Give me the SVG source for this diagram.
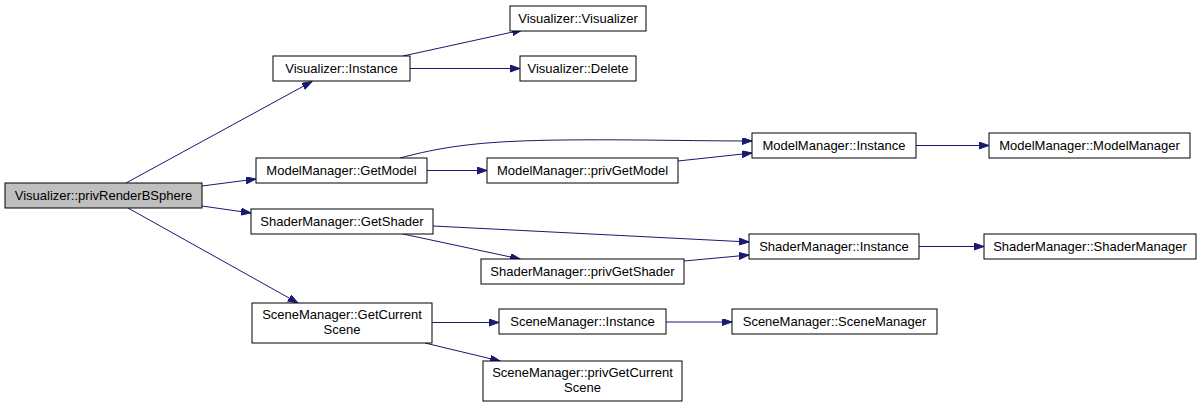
<svg xmlns="http://www.w3.org/2000/svg" width="1201" height="407" viewBox="0 0 1201 407">
<style>
.n rect{fill:#fff;stroke:#000;stroke-width:1}
.n.root rect{fill:#bfbfbf}
text{font-family:"Liberation Sans",Arial,sans-serif;font-size:13px;text-anchor:middle;fill:#000}
#edges path{fill:none;stroke:#191970;stroke-width:1;marker-end:url(#ah)}
</style>
<defs>
<marker id="ah" markerUnits="userSpaceOnUse" markerWidth="11" markerHeight="8" refX="10" refY="3.5" orient="auto">
<path d="M0,0 L10,3.5 L0,7 z" fill="#191970" stroke="#191970" stroke-width="1"/>
</marker>
</defs>
<rect width="1201" height="407" fill="#fff"/>
<g id="edges">
<path d="M126,183 L312,81.5"/>
<path d="M202,186 L256,179"/>
<path d="M202,206 L251,213"/>
<path d="M128,208 L298,303"/>
<path d="M403,56 L522,30"/>
<path d="M410,68.5 L520,68.5"/>
<path d="M400,158 C430,150 460,144 510,141.5 C580,138 680,141 752,141"/>
<path d="M427,170.5 L487,170.5"/>
<path d="M678,161 L752,153"/>
<path d="M916,145.5 L989,145.5"/>
<path d="M433,226 L749,242"/>
<path d="M403,234 L520,259"/>
<path d="M684,261 L749,255"/>
<path d="M919,246.5 L984,246.5"/>
<path d="M432,322.5 L499,322.5"/>
<path d="M425,343 L500,361"/>
<path d="M666,322 L732,322"/>
</g>
<g id="root" class="n root"><rect x="5" y="183" width="197" height="25"/><text x="103.5" y="200">Visualizer::privRenderBSphere</text></g>
<g id="vis_instance" class="n"><rect x="273" y="56" width="137" height="25"/><text x="341.5" y="73">Visualizer::Instance</text></g>
<g id="vis_visualizer" class="n"><rect x="510" y="6" width="136" height="25"/><text x="578" y="23">Visualizer::Visualizer</text></g>
<g id="vis_delete" class="n"><rect x="520" y="56" width="116" height="25"/><text x="578" y="73">Visualizer::Delete</text></g>
<g id="mm_getmodel" class="n"><rect x="256" y="158" width="171" height="25"/><text x="341.5" y="175">ModelManager::GetModel</text></g>
<g id="mm_privgetmodel" class="n"><rect x="487" y="158" width="191" height="25"/><text x="582.5" y="175">ModelManager::privGetModel</text></g>
<g id="mm_instance" class="n"><rect x="752" y="133" width="164" height="25"/><text x="834" y="150">ModelManager::Instance</text></g>
<g id="mm_modelmanager" class="n"><rect x="989" y="133" width="201" height="25"/><text x="1089.5" y="150">ModelManager::ModelManager</text></g>
<g id="sm_getshader" class="n"><rect x="251" y="209" width="182" height="25"/><text x="342" y="226">ShaderManager::GetShader</text></g>
<g id="sm_privgetshader" class="n"><rect x="481" y="259" width="203" height="25"/><text x="582.5" y="276">ShaderManager::privGetShader</text></g>
<g id="sm_instance" class="n"><rect x="749" y="234" width="170" height="25"/><text x="834" y="251">ShaderManager::Instance</text></g>
<g id="sm_shadermanager" class="n"><rect x="984" y="234" width="212" height="25"/><text x="1090" y="251">ShaderManager::ShaderManager</text></g>
<g id="sc_getcurrentscene" class="n"><rect x="252" y="303" width="180" height="40"/><text x="342" y="318.5">SceneManager::GetCurrent</text><text x="342" y="333.5">Scene</text></g>
<g id="sc_instance" class="n"><rect x="499" y="309" width="167" height="25"/><text x="582.5" y="326">SceneManager::Instance</text></g>
<g id="sc_scenemanager" class="n"><rect x="732" y="309" width="205" height="25"/><text x="834.5" y="326">SceneManager::SceneManager</text></g>
<g id="sc_privgetcurrentscene" class="n"><rect x="483" y="361" width="199" height="40"/><text x="582.5" y="376.5">SceneManager::privGetCurrent</text><text x="582.5" y="391.5">Scene</text></g>
</svg>
